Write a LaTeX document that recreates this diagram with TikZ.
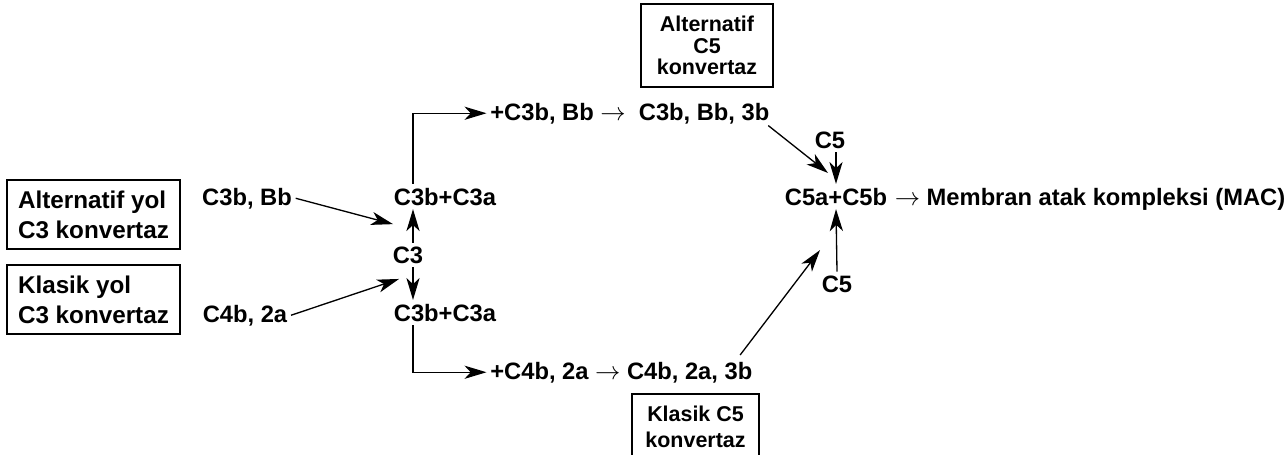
\documentclass[tikz,border=0pt]{standalone}
\usepackage{fontspec}
\setmainfont{Liberation Sans}
\usepackage{tikz}
\usetikzlibrary{calc}
\usetikzlibrary{arrows.meta}

\begin{document}
\begin{tikzpicture}[x=0.02cm, y=-0.02cm,
  lbl/.style={font=\fontsize{13.5}{16}\selectfont\bfseries, inner sep=2pt},
  konv/.style={draw, line width=0.75pt, inner sep=2pt, font=\bfseries},
  arr/.style={-{Stealth[length=12.5pt,width=7.5pt,inset=3.5pt]}, line width=0.75pt}]
\useasboundingbox (0,0) rectangle (1284,454);

\node[konv, align=left, minimum width=3.46cm, minimum height=1.38cm, font=\fontsize{13.8}{17}\selectfont\bfseries] (altyol) at (93.5,214.5) {Alternatif yol\\C3 konvertaz};
\node[konv, align=left, minimum width=3.46cm, minimum height=1.38cm, font=\fontsize{13.8}{17}\selectfont\bfseries] (klasyol) at (93.5,299.5) {Klasik yol\\C3 konvertaz};

\node[lbl, anchor=base] (c3bbb) at (247,205) {C3b, Bb};
\node[lbl, anchor=base] (c4b2a) at (245,322) {C4b, 2a};

\node[lbl, anchor=base] (c3up) at (445,205) {C3b+C3a};
\node[lbl, anchor=base] (c3) at (408,263) {C3};
\node[lbl, anchor=base] (c3low) at (445,321) {C3b+C3a};

\node[lbl, anchor=base west] (altplus) at (486.5,120) {+C3b, Bb $\rightarrow$~ C3b, Bb, 3b};
\node[lbl, anchor=base west] (klasplus) at (486.5,379) {+C4b, 2a $\rightarrow$ C4b, 2a, 3b};

\node[konv, align=center, minimum width=2.64cm, minimum height=1.66cm, font=\fontsize{12.2}{12.4}\selectfont\bfseries] (altc5) at (707,45.5) {Alternatif\\C5\\konvertaz};
\node[konv, align=center, minimum width=2.54cm, minimum height=1.32cm, font=\fontsize{12.2}{14.8}\selectfont\bfseries] (klasc5) at (695.5,427) {Klasik C5\\konvertaz};

\node[lbl, anchor=base] (c5top) at (830,148) {C5};
\node[lbl, anchor=base] (c5ab) at (836,205) {C5a+C5b};
\node[lbl, anchor=base west] (mac) at (c5ab.base east) {$\rightarrow$ Membran atak kompleksi (MAC)};
\node[lbl, anchor=base] (c5bot) at (837,292) {C5};

\draw[arr] (c3bbb.east) -- ($(c3up.south west)+(3,15)$);
\draw[arr] (c4b2a.east) -- ($(c3low.north west)+(9,-21)$);
\draw[arr] ([xshift=0.1cm]c3.north) -- ([xshift=0.1cm]c3.north |- c3up.south);
\draw[arr] ([xshift=0.1cm]c3.south) -- ([xshift=0.1cm]c3.south |- c3low.north);

\draw[arr] ([xshift=0.1cm]c3.north |- c3up.north) |- (altplus.west);
\draw[arr] ([xshift=0.1cm]c3.south |- c3low.south) |- (klasplus.west);

\draw[arr] ($(altplus.south east)+(-5,-2)$) -- ($(c5ab.north)+(-8,-11)$);
\draw[arr] (c5top.south -| c5ab.north) -- (c5ab.north);
\draw[arr] (c5bot.north) -- (c5ab.south);
\draw[arr] ($(klasplus.north east)+(-16,-3)$) -- ($(c5ab.south)+(-16,41)$);

\end{tikzpicture}
\end{document}
